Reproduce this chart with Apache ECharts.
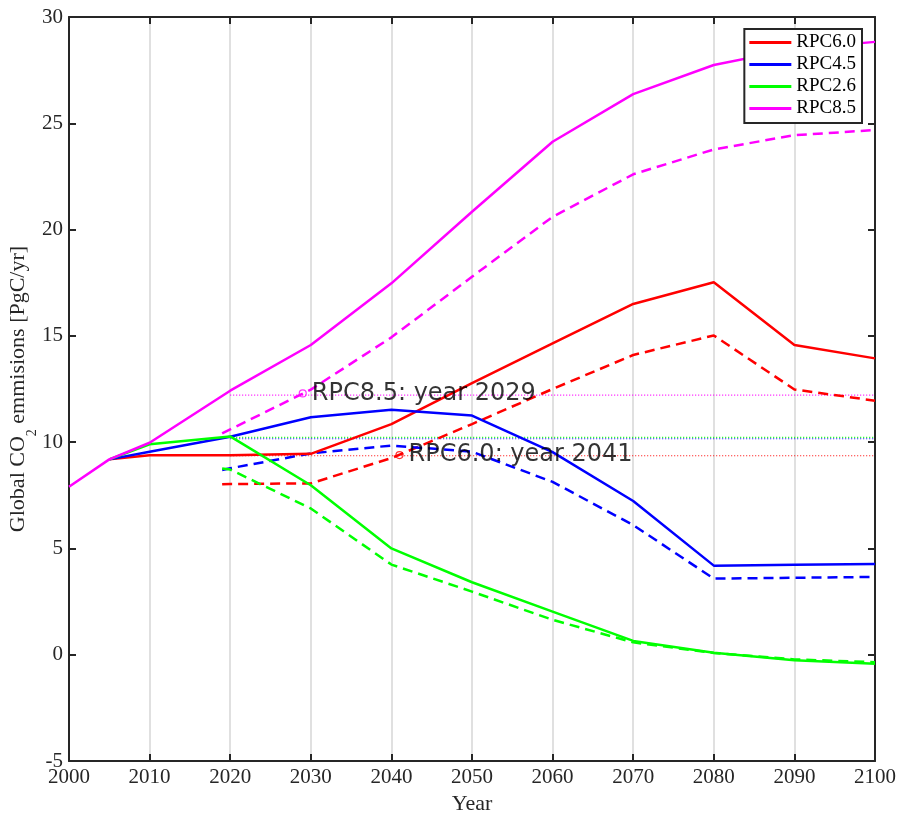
<!DOCTYPE html>
<html>
<head>
<meta charset="utf-8">
<script src="https://cdn.jsdelivr.net/npm/echarts@6/dist/echarts.min.js"></script>
<style>
html,body{margin:0;padding:0;background:#fff;}
#chart{width:914px;height:822px;}
</style>
</head>
<body>
<div id="chart"></div>
<script>
// ---- data ----
var solidYears = [2000, 2005, 2010, 2020, 2030, 2040, 2050, 2060, 2070, 2080, 2090, 2100];
var rpc60 = [null, 9.19, 9.38, 9.38, 9.45, 10.85, 12.78, 14.65, 16.50, 17.52, 14.57, 13.94];
var rpc45 = [null, 9.19, 9.55, 10.25, 11.17, 11.52, 11.25, 9.53, 7.23, 4.19, 4.23, 4.27];
var rpc26 = [null, 9.19, 9.90, 10.27, 7.97, 5.00, 3.41, 2.03, 0.65, 0.09, -0.26, -0.42];
var rpc85 = [7.90, 9.19, 9.97, 12.42, 14.57, 17.47, 20.84, 24.13, 26.37, 27.74, 28.50, 28.83];

var dashedYears = [2019, 2020, 2030, 2040, 2050, 2060, 2070, 2080, 2090, 2100];
var rpc60d = [8.02, 8.03, 8.06, 9.25, 10.85, 12.50, 14.10, 15.02, 12.48, 11.95];
var rpc45d = [8.69, 8.77, 9.47, 9.84, 9.55, 8.13, 6.10, 3.58, 3.62, 3.66];
var rpc26d = [8.76, 8.71, 6.88, 4.24, 2.97, 1.64, 0.58, 0.08, -0.22, -0.35];
var rpc85d = [10.41, 10.60, 12.47, 14.93, 17.78, 20.60, 22.60, 23.77, 24.44, 24.68];

var thresholdYears = [2020, 2100];
var thr60 = 9.36, thr45 = 10.16, thr26 = 10.22, thr85 = 12.21;

var markerYears = [2029, 2041];
var markerValues = [12.29, 9.39];
var markerLabels = ['RPC8.5: year 2029', 'RPC6.0: year 2041'];

var seriesNames = ['RPC6.0', 'RPC4.5', 'RPC2.6', 'RPC8.5'];
var xTicks = [2000, 2010, 2020, 2030, 2040, 2050, 2060, 2070, 2080, 2090, 2100];
var yTicks = [-5, 0, 5, 10, 15, 20, 25, 30];

// ---- helpers ----
function pairs(xs, ys) {
  var out = [];
  for (var i = 0; i < xs.length; i++) { if (ys[i] !== null) out.push([xs[i], ys[i]]); }
  return out;
}
var colors = { 'RPC6.0': '#ff0000', 'RPC4.5': '#0000ff', 'RPC2.6': '#00ff00', 'RPC8.5': '#ff00ff' };
var solidData = [rpc60, rpc45, rpc26, rpc85];
var dashedData = [rpc60d, rpc45d, rpc26d, rpc85d];
var thrData = [thr60, thr45, thr26, thr85];
var axisCol = '#262626';
var serif = 'Liberation Serif';

var series = [];
// dotted thresholds
seriesNames.forEach(function (n, i) {
  series.push({
    name: n + ' threshold', type: 'line', silent: true, symbol: 'none', z: 1,
    data: pairs(thresholdYears, [thrData[i], thrData[i]]),
    lineStyle: { color: colors[n], width: 1.2, type: [1, 2] }
  });
});
// dashed
seriesNames.forEach(function (n, i) {
  series.push({
    name: n + ' dashed', type: 'line', symbol: 'none', z: 2,
    data: pairs(dashedYears, dashedData[i]),
    lineStyle: { color: colors[n], width: 2.5, type: [10, 6] }
  });
});
// solid
seriesNames.forEach(function (n, i) {
  series.push({
    name: n, type: 'line', symbol: 'none', z: 3,
    data: pairs(solidYears, solidData[i]),
    itemStyle: { color: colors[n] },
    lineStyle: { color: colors[n], width: 2.5 }
  });
});
// markers
var markerColors = [colors['RPC8.5'], colors['RPC6.0']];
series.push({
  name: 'markers', type: 'scatter', z: 5, symbol: 'circle', symbolSize: 7,
  data: markerYears.map(function (y, i) {
    return {
      value: [y, markerValues[i]],
      itemStyle: { color: 'rgba(255,255,255,0)', borderColor: markerColors[i], borderWidth: 1.2 }
    };
  }),
  label: {
    show: true, position: 'right', distance: 5,
    formatter: function (p) { return markerLabels[p.dataIndex]; },
    fontFamily: 'DejaVu Sans', fontSize: 24, color: '#000'
  }
});

var chart = echarts.init(document.getElementById('chart'), null, { renderer: 'canvas' });
chart.setOption({
  animation: false,
  backgroundColor: '#ffffff',
  grid: { left: 69, right: 39, top: 17, bottom: 61, containLabel: false, outerBoundsMode: 'none' },
  legend: {
    show: true,
    data: seriesNames,
    orient: 'vertical', right: 52, top: 29,
    backgroundColor: '#ffffff', borderColor: axisCol, borderWidth: 2,
    padding: [4, 6, 5, 5], itemGap: 3, itemWidth: 42, itemHeight: 3,
    icon: 'rect',
    textStyle: { fontFamily: serif, fontSize: 19, color: '#000' },
    selectedMode: false, z: 10
  },
  xAxis: [{
    type: 'value', min: xTicks[0], max: xTicks[xTicks.length - 1], interval: 10,
    name: 'Year', nameLocation: 'middle', nameGap: 32, nameMoveOverlap: false,
    nameTextStyle: { fontFamily: serif, fontSize: 22, color: axisCol },
    axisLine: { show: true, onZero: false, lineStyle: { color: axisCol, width: 2 } },
    axisTick: { show: true, inside: true, length: 7, lineStyle: { color: axisCol, width: 2 } },
    axisLabel: { fontFamily: serif, fontSize: 21, color: axisCol, margin: 6, formatter: function (v) { return String(v); } },
    splitLine: { show: true, lineStyle: { color: '#e0e0e0', width: 2 } }
  }, {
    type: 'value', position: 'top', min: xTicks[0], max: xTicks[xTicks.length - 1], interval: 10,
    axisLine: { show: true, onZero: false, lineStyle: { color: axisCol, width: 2 } },
    axisTick: { show: true, inside: true, length: 7, lineStyle: { color: axisCol, width: 2 } },
    axisLabel: { show: false }, splitLine: { show: false }
  }],
  yAxis: [{
    type: 'value', min: yTicks[0], max: yTicks[yTicks.length - 1], interval: 5,
    name: '{a|Global CO}{sub|2}{a| emmisions [PgC/yr]}',
    nameLocation: 'middle', nameGap: 38, nameRotate: 90, nameMoveOverlap: false,
    nameTextStyle: {
      fontFamily: serif, fontSize: 22, color: axisCol,
      rich: {
        a: { fontFamily: serif, fontSize: 22, color: axisCol, lineHeight: 24, verticalAlign: 'top' },
        sub: { fontFamily: serif, fontSize: 14, color: axisCol, lineHeight: 14, verticalAlign: 'top', padding: [18, 0, 0, 0] }
      }
    },
    axisLine: { show: true, onZero: false, lineStyle: { color: axisCol, width: 2 } },
    axisTick: { show: true, inside: true, length: 7, lineStyle: { color: axisCol, width: 2 } },
    axisLabel: { fontFamily: serif, fontSize: 21, color: axisCol, margin: 6 },
    splitLine: { show: false }
  }, {
    type: 'value', position: 'right', min: yTicks[0], max: yTicks[yTicks.length - 1], interval: 5,
    axisLine: { show: true, onZero: false, lineStyle: { color: axisCol, width: 2 } },
    axisTick: { show: true, inside: true, length: 7, lineStyle: { color: axisCol, width: 2 } },
    axisLabel: { show: false }, splitLine: { show: false }
  }],
  series: series
});
</script>
</body>
</html>
